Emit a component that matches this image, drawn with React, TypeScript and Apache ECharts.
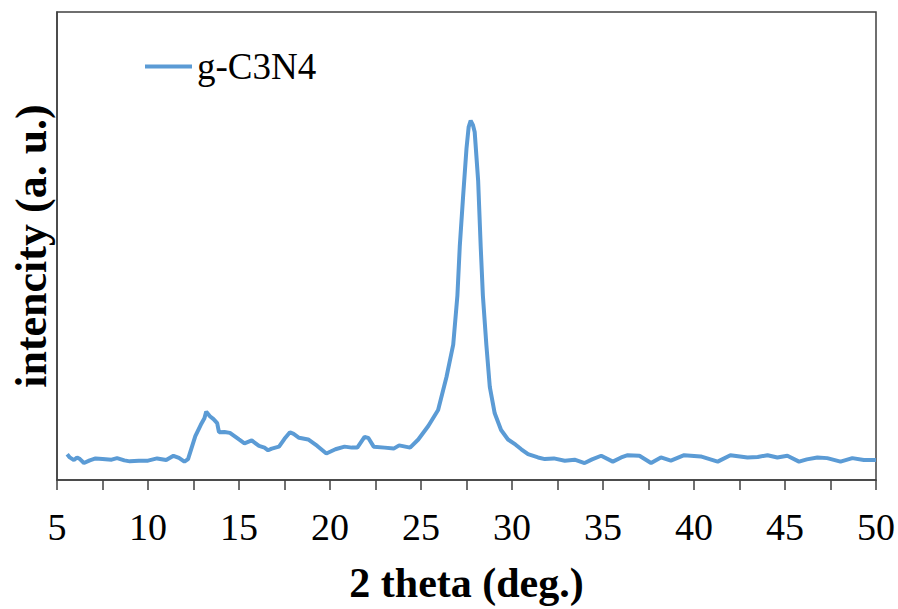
import React, { useEffect, useRef } from "react";
import * as echarts from "echarts";

const seriesName = "g-C3N4";
const xAxisTitle = "2 theta (deg.)";
const yAxisTitle = "intencity (a. u.)";

const twoTheta = [
  5.56, 5.7, 5.93, 6.1, 6.26, 6.48, 6.8, 7.12, 7.5, 8.0, 8.3, 8.7, 9.0, 9.5, 10.0, 10.5, 11.0, 11.4, 11.7, 12.0,
  12.2, 12.4, 12.6, 12.9, 13.1, 13.2, 13.4, 13.6, 13.8, 13.9, 14.2, 14.5, 15.0, 15.3, 15.7, 16.1, 16.4, 16.6, 16.8, 17.2,
  17.5, 17.8, 18.0, 18.3, 18.8, 19.3, 19.8, 20.3, 20.8, 21.2, 21.5, 21.9, 22.1, 22.4, 23.0, 23.5, 23.8, 24.4, 24.85, 25.4,
  25.94, 26.4, 26.77, 27.0, 27.13, 27.31, 27.5, 27.62, 27.73, 27.85, 27.95, 28.14, 28.28, 28.4, 28.59, 28.78, 29.05, 29.4, 29.78, 30.2,
  30.51, 30.88, 31.43, 31.8, 32.3, 32.9, 33.44, 33.99, 34.4, 34.9, 35.54, 36.0, 36.36, 37.0, 37.64, 38.18, 38.73, 39.46, 40.37, 41.3,
  42.0, 42.94, 43.5, 44.04, 44.58, 45.13, 45.77, 46.2, 46.78, 47.32, 48.05, 48.7, 49.33, 50.0,
];

const intensity = [
  26.3, 23, 20.3, 23, 21.3, 17.3, 20, 22, 21.5, 20.7, 22.3, 20, 19, 19.5, 19.7, 22, 20.3, 24.7, 22.5, 18.7,
  21.3, 33, 44.7, 56.3, 63, 69.7, 65, 62, 58, 48.7, 49, 48, 41.3, 37.3, 40.3, 34.7, 33, 30.3, 32, 34,
  42, 48.7, 47, 43, 41.3, 34.7, 27, 31.3, 34, 33, 33, 44, 43, 34, 33, 32, 35.3, 33, 41.3, 55,
  71.3, 105, 138, 188, 238, 288, 338, 360, 366.3, 362, 354.7, 305, 238, 188, 138, 95, 68, 51, 41.3, 36,
  31.3, 26.3, 23, 21.3, 22, 19.7, 20.7, 17.3, 21, 24.7, 18.7, 23, 25.3, 24.7, 17.3, 23, 19.7, 25.3, 24, 18.7,
  25.3, 23, 23.5, 25.3, 23, 24.7, 18.7, 21, 23, 22.3, 18.7, 22.3, 20.3, 20.3,
];

export default function App() {
  const ref = useRef<HTMLDivElement>(null);
  useEffect(() => {
    if (!ref.current) return;
    const chart = echarts.init(ref.current, null, { renderer: "svg" });
    const axisColor = "#404040";
    const lineColor = "#5B9BD5";
    const serif = "'Liberation Serif', 'Times New Roman', serif";
    chart.setOption({
      animation: false,
      backgroundColor: "#ffffff",
      grid: {
        left: 57,
        top: 12,
        right: 19,
        bottom: 120,
        show: true,
        borderColor: axisColor,
        borderWidth: 1.5,
        backgroundColor: "transparent",
      },
      legend: {
        data: [seriesName],
        left: 140,
        top: 43,
        padding: 5,
        icon: "rect",
        itemWidth: 47,
        itemHeight: 4,
        itemGap: 5,
        itemStyle: { color: lineColor, borderWidth: 0 },
        textStyle: { fontFamily: serif, fontSize: 37, color: "#000" },
      },
      xAxis: {
        type: "value",
        min: 5,
        max: 50,
        interval: 2.5,
        name: xAxisTitle,
        nameLocation: "middle",
        nameGap: 82,
        nameTextStyle: { fontFamily: serif, fontSize: 42, fontWeight: "bold", color: "#000" },
        axisLine: { show: true, lineStyle: { color: axisColor, width: 1.5 } },
        axisTick: { show: true, inside: false, length: 10, lineStyle: { color: axisColor, width: 1.5 } },
        axisLabel: {
          margin: 28,
          fontFamily: serif,
          fontSize: 38,
          color: "#000",
          formatter: (v: number) => (Math.abs(v % 5) < 1e-6 ? String(v) : ""),
        },
        splitLine: { show: false },
      },
      yAxis: {
        type: "value",
        min: 0,
        max: 477,
        name: yAxisTitle,
        nameLocation: "middle",
        nameGap: 4,
        nameRotate: 90,
        nameTextStyle: { fontFamily: serif, fontSize: 44, fontWeight: "bold", color: "#000" },
        axisLine: { show: true, lineStyle: { color: axisColor, width: 1.5 } },
        axisTick: { show: false },
        axisLabel: { show: false },
        splitLine: { show: false },
      },
      series: [
        {
          name: seriesName,
          type: "line",
          data: twoTheta.map((x, i) => [x, intensity[i]]),
          symbol: "none",
          smooth: false,
          lineStyle: { color: lineColor, width: 4 },
          itemStyle: { color: lineColor },
        },
      ],
    });
    return () => chart.dispose();
  }, []);
  return <div ref={ref} style={{ width: 898, height: 609, position: "absolute", left: 0, top: 0 }} />;
}
